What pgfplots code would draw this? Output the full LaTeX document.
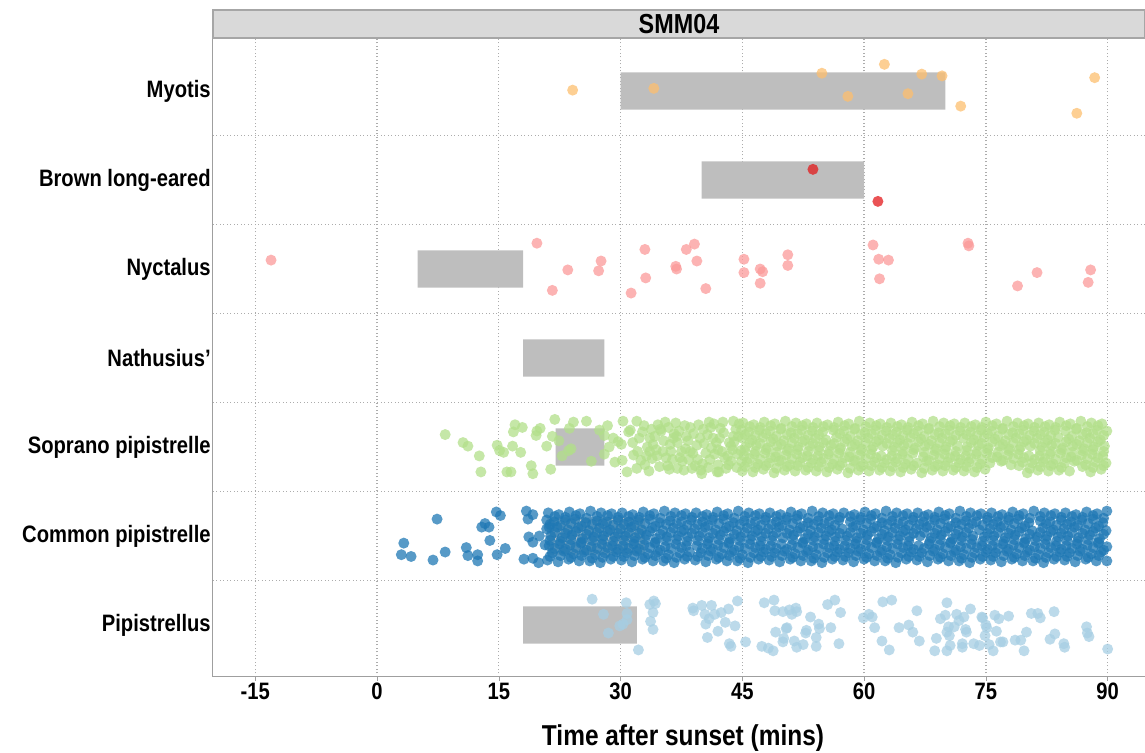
\documentclass[border=0pt]{standalone}
\usepackage{fontspec}
\setmainfont{Liberation Sans}[FakeStretch=0.85]
\usepackage{pgfplots}
\pgfplotsset{compat=1.18}
\definecolor{cMyo}{HTML}{FDBF6F}
\definecolor{cBle}{HTML}{E31A1C}
\definecolor{cNyc}{HTML}{FB9A99}
\definecolor{cSop}{HTML}{B2DF8A}
\definecolor{cCom}{HTML}{1F78B4}
\definecolor{cPip}{HTML}{A6CEE3}
\definecolor{winGray}{HTML}{BEBEBE}
\definecolor{stripGray}{HTML}{D9D9D9}
\pgfplotsset{
  pts/.style={only marks, mark=*, mark size=2.2pt, forget plot, color=#1,
    mark options={fill=#1, draw opacity=0, fill opacity=0.75}},
  win/.style={fill=winGray, draw=none, forget plot, mark=none},
}
\begin{document}
\begin{tikzpicture}
\begin{axis}[
  scale only axis, width=372.8pt, height=255.6pt,
  xmin=-20.2, xmax=94.6, ymin=0.416, ymax=7.596,
  axis x line*=bottom, axis y line*=left,
  axis line style={gray!75, -},
  xtick={-15,0,15,30,45,60,75,90},
  xticklabels={-15,0,15,30,45,60,75,90},
  ytick={1,2,3,4,5,6,7},
  yticklabels={Pipistrellus,Common pipistrelle,Soprano pipistrelle,Nathusius',Nyctalus,Brown long-eared,Myotis},
  minor ytick={1.5,2.5,3.5,4.5,5.5,6.5},
  xmajorgrids, yminorgrids,
  grid style={gray!65, densely dotted, line width=0.5pt},
  tick align=outside, major tick length=1.6pt, minor tick length=0pt,
  xtick style={gray!75}, ytick style={draw=none},
  tick label style={font=\bfseries\fontsize{9.5}{11}\selectfont, text=black},
  yticklabel style={xshift=4.2pt},
  xticklabel style={yshift=2.7pt},
]
% activity windows
\addplot[win] coordinates {(30,6.79) (70,6.79) (70,7.21) (30,7.21) (30,6.79)};
\addplot[win] coordinates {(40,5.79) (60,5.79) (60,6.21) (40,6.21) (40,5.79)};
\addplot[win] coordinates {(5,4.79) (18,4.79) (18,5.21) (5,5.21) (5,4.79)};
\addplot[win] coordinates {(18,3.79) (28,3.79) (28,4.21) (18,4.21) (18,3.79)};
\addplot[win] coordinates {(22,2.79) (28,2.79) (28,3.21) (22,3.21) (22,2.79)};
\addplot[win] coordinates {(18,0.79) (32,0.79) (32,1.21) (18,1.21) (18,0.79)};

% Myotis
\addplot[pts=cMyo] coordinates {(24.1,7.01)(34.1,7.03)(54.8,7.20)(58.0,6.94)(62.5,7.30)(65.4,6.97)(67.1,7.19)(69.6,7.17)(71.9,6.83)(86.2,6.75)(88.4,7.15)};
% Brown long-eared
\addplot[pts=cBle] coordinates {(53.7,6.12)(61.7,5.76)};
% Nyctalus
\addplot[pts=cNyc] coordinates {(-13.05,5.10)(19.7,5.29)(23.5,4.99)(21.6,4.76)(27.6,5.09)(27.3,4.98)(31.3,4.73)(33.0,5.22)(33.1,4.90)(36.8,5.03)(36.9,5.00)(38.1,5.22)(39.1,5.28)(39.4,5.09)(40.5,4.78)(45.2,5.11)(45.2,4.96)(47.2,5.00)(47.5,4.97)(47.2,4.84)(50.6,5.16)(50.6,5.04)(61.1,5.27)(61.8,5.11)(61.9,4.89)(63.0,5.10)(72.8,5.29)(72.9,5.26)(78.9,4.81)(81.3,4.96)(87.6,4.85)(87.9,4.99)};

% Soprano pipistrelle: early and moderate part
\addplot[pts=cSop] coordinates {(8.4,3.14)(10.6,3.05)(11.2,3.01)(12.6,2.90)(12.8,2.72)(14.8,3.02)(15.1,2.96)(15.6,2.94)(16.0,2.72)(16.5,2.72)(16.7,3.01)(17.7,2.94)(16.8,3.17)(17.0,3.25)(17.9,3.22)(19.0,2.79)(19.2,2.70)(19.6,3.13)(19.7,3.18)(20.1,3.21)(20.9,3.01)(21.4,2.75)(21.6,3.12)(21.9,3.31)(22.4,3.07)(22.8,2.90)(23.6,2.96)(23.9,2.98)(23.7,3.21)(24.2,3.28)(25.8,3.29)(26.4,2.84)(27.4,3.19)(28.0,3.13)(28.4,3.24)(28.0,2.92)(28.6,3.00)(29.1,3.10)(29.7,3.06)(30.1,3.03)(31.0,3.17)(31.2,3.19)(29.3,2.83)(30.2,2.85)(31.6,2.91)(32.0,2.76)(30.3,3.29)(32.0,3.29)
(32.9,3.24)(33.6,2.95)(34.2,3.12)(34.8,2.78)(35.5,3.28)(36.1,3.03)(36.4,2.86)(37.2,3.18)(37.8,2.74)(38.3,3.07)(38.9,2.93)(39.6,3.25)(40.1,2.81)(40.7,3.14)(41.2,2.99)(41.9,2.72)(42.3,3.21)(42.8,2.88)(43.4,3.05)(43.9,3.29)(44.3,2.77)(44.8,2.96)(33.5,2.73)(35.0,3.18)(36.8,3.27)(38.0,2.98)(39.2,2.79)(40.3,3.04)(41.5,3.26)(42.5,2.95)(43.6,2.84)(44.5,3.12)(35.6,2.88)(39.8,3.10)(41.0,2.86)(37.5,2.95)(34.0,3.03)(32.5,2.85)
(33.0,2.80)(33.8,3.20)(34.5,2.90)(35.3,3.07)(36.0,2.75)(36.9,3.12)(37.6,2.84)(38.6,3.22)(39.4,3.02)(40.0,2.70)(40.9,3.28)(41.6,2.92)(42.2,3.10)(43.0,2.76)(43.8,2.97)(44.2,3.20)(32.3,3.10)(35.9,3.22)(38.4,2.86)(42.7,3.16)
(33.3,3.00)(34.6,3.25)(36.2,2.95)(37.0,3.05)(38.8,2.76)(40.5,2.93)(41.8,3.05)(43.2,2.90)(44.0,3.06)(44.9,2.84)(36.6,3.15)(39.0,3.15)(42.0,2.80)(44.6,3.26)(33.9,2.87)
(30.8,2.72)(31.5,3.05)(32.1,2.95)(32.7,3.17)(33.2,2.90)(34.4,2.97)(34.9,3.20)(35.8,2.79)(36.5,3.10)(37.3,2.88)(37.9,3.24)(38.6,2.95)(39.5,2.86)(40.2,3.20)(40.8,2.77)(41.4,3.10)(42.0,2.97)(42.6,3.28)(43.3,2.80)(43.9,3.12)(44.4,2.92)(44.9,3.19)(41.1,3.22)(39.9,2.74)(37.0,2.76)(35.2,2.95)(33.6,3.10)(43.6,3.01)(42.1,2.72)(38.1,3.12)};
% Soprano pipistrelle: dense part
\addplot[pts=cSop] coordinates {
(45.0,2.73)(46.3,2.72)(47.6,2.75)(48.9,2.71)(50.2,2.74)(51.5,2.73)(52.8,2.74)(54.1,2.73)(55.4,2.72)(56.7,2.75)(58.0,2.71)(59.3,2.74)(60.6,2.73)(61.9,2.74)(63.2,2.73)(64.5,2.72)(65.8,2.75)(67.1,2.71)(68.4,2.74)(69.7,2.73)(71.0,2.74)(72.3,2.73)(73.6,2.72)(74.9,2.75)(80.1,2.71)(81.4,2.74)(82.7,2.73)(84.0,2.74)(85.3,2.73)(87.9,2.72)(89.2,2.75)
(45.6,2.83)(46.9,2.81)(48.3,2.82)(49.5,2.84)(50.9,2.80)(52.1,2.83)(53.5,2.82)(54.7,2.83)(56.1,2.81)(57.3,2.82)(58.7,2.84)(59.9,2.80)(61.3,2.83)(62.5,2.82)(63.9,2.83)(65.1,2.81)(66.5,2.82)(67.7,2.84)(69.1,2.80)(70.3,2.83)(71.7,2.82)(72.9,2.83)(74.3,2.81)(75.5,2.82)(76.9,2.84)(78.1,2.80)(79.5,2.83)(80.7,2.82)(82.1,2.83)(83.3,2.81)(84.7,2.82)(85.9,2.84)(87.3,2.80)(88.5,2.83)(89.8,2.82)
(45.2,2.90)(46.5,2.92)(47.8,2.93)(49.1,2.89)(50.4,2.91)(51.7,2.92)(53.0,2.90)(54.3,2.90)(55.6,2.92)(56.9,2.93)(58.2,2.89)(59.5,2.91)(60.8,2.92)(62.1,2.90)(63.4,2.90)(64.7,2.92)(66.0,2.93)(67.3,2.89)(68.6,2.91)(69.9,2.92)(71.2,2.90)(72.5,2.90)(73.8,2.92)(75.1,2.93)(76.4,2.89)(77.7,2.91)(79.0,2.92)(80.3,2.90)(81.6,2.90)(82.9,2.92)(84.2,2.93)(85.5,2.89)(86.8,2.91)(88.1,2.92)(89.4,2.90)
(45.4,3.00)(46.7,3.02)(48.1,2.99)(49.3,3.01)(50.7,2.98)(51.9,3.00)(53.3,3.01)(54.5,3.00)(55.9,3.02)(57.1,2.99)(58.5,3.01)(59.7,2.98)(61.1,3.00)(62.3,3.01)(63.7,3.00)(64.9,3.02)(66.3,2.99)(67.5,3.01)(68.9,2.98)(70.1,3.00)(71.5,3.01)(72.7,3.00)(74.1,3.02)(75.3,2.99)(76.7,3.01)(77.9,2.98)(79.3,3.00)(80.5,3.01)(81.9,3.00)(83.1,3.02)(84.5,2.99)(85.7,3.01)(87.1,2.98)(88.3,3.00)(89.6,3.01)
(45.0,3.10)(46.2,3.08)(47.5,3.11)(48.8,3.09)(50.1,3.07)(51.4,3.10)(52.7,3.08)(54.0,3.10)(55.3,3.08)(56.6,3.11)(57.9,3.09)(59.2,3.07)(60.5,3.10)(61.8,3.08)(63.1,3.10)(64.4,3.08)(65.7,3.11)(67.0,3.09)(68.3,3.07)(69.6,3.10)(70.9,3.08)(72.2,3.10)(73.5,3.08)(74.8,3.11)(76.1,3.09)(77.4,3.07)(78.7,3.10)(80.0,3.08)(81.3,3.10)(82.6,3.08)(83.9,3.11)(85.2,3.09)(86.5,3.07)(87.8,3.10)(89.1,3.08)
(45.8,3.17)(47.1,3.19)(48.4,3.18)(49.7,3.20)(51.0,3.16)(52.3,3.19)(53.6,3.18)(54.9,3.17)(56.2,3.19)(57.5,3.18)(58.8,3.20)(60.1,3.16)(61.4,3.19)(62.7,3.18)(64.0,3.17)(65.3,3.19)(66.6,3.18)(67.9,3.20)(69.2,3.16)(70.5,3.19)(71.8,3.18)(73.1,3.17)(74.4,3.19)(75.7,3.18)(77.0,3.20)(78.3,3.16)(79.6,3.19)(80.9,3.18)(82.2,3.17)(83.5,3.19)(84.8,3.18)(86.1,3.20)(87.4,3.16)(88.7,3.19)(89.9,3.18)
(45.1,3.27)(46.4,3.25)(47.7,3.28)(49.0,3.26)(50.3,3.29)(51.6,3.27)(52.9,3.26)(54.2,3.27)(55.5,3.25)(56.8,3.28)(58.1,3.26)(59.4,3.29)(60.7,3.27)(62.0,3.26)(63.3,3.27)(64.6,3.25)(65.9,3.28)(67.2,3.26)(68.5,3.29)(69.8,3.27)(71.1,3.26)(72.4,3.27)(73.7,3.25)(75.0,3.28)(76.3,3.26)(77.6,3.29)(78.9,3.27)(80.2,3.26)(81.5,3.27)(82.8,3.25)(84.1,3.28)(85.4,3.26)(86.7,3.29)(88.0,3.27)(89.3,3.26)
(45.3,2.78)(46.6,2.77)(47.9,2.79)(49.2,2.76)(50.5,2.78)(51.8,2.79)(53.1,2.77)(54.4,2.78)(55.7,2.77)(57.0,2.79)(58.3,2.76)(59.6,2.78)(60.9,2.79)(62.2,2.77)(63.5,2.78)(64.8,2.77)(66.1,2.79)(67.4,2.76)(68.7,2.78)(70.0,2.79)(71.3,2.77)(72.6,2.78)(73.9,2.77)(79.1,2.79)(80.4,2.76)(81.7,2.78)(83.0,2.79)(84.3,2.77)(86.9,2.78)(88.2,2.77)(89.5,2.79)
(45.9,2.87)(47.2,2.86)(48.5,2.88)(49.8,2.85)(51.1,2.87)(52.4,2.88)(53.7,2.86)(55.0,2.87)(56.3,2.86)(57.6,2.88)(58.9,2.85)(60.2,2.87)(61.5,2.88)(62.8,2.86)(64.1,2.87)(65.4,2.86)(68.0,2.85)(69.3,2.87)(70.6,2.88)(71.9,2.86)(73.2,2.87)(74.5,2.86)(75.8,2.88)(77.1,2.85)(78.4,2.87)(79.7,2.88)(81.0,2.86)(82.3,2.87)(83.6,2.86)(84.9,2.88)(86.2,2.85)(87.5,2.87)(88.8,2.88)
(45.3,2.96)(46.6,2.95)(47.9,2.97)(49.2,2.94)(50.5,2.96)(51.8,2.97)(53.1,2.95)(54.4,2.96)(55.7,2.95)(57.0,2.97)(58.3,2.94)(59.6,2.96)(60.9,2.97)(63.5,2.96)(64.8,2.95)(66.1,2.97)(67.4,2.94)(68.7,2.96)(70.0,2.97)(71.3,2.95)(72.6,2.96)(73.9,2.95)(75.2,2.97)(76.5,2.94)(77.8,2.96)(79.1,2.97)(81.7,2.96)(83.0,2.95)(84.3,2.97)(85.6,2.94)(86.9,2.96)(88.2,2.97)(89.5,2.95)
(45.9,3.05)(47.2,3.04)(48.5,3.06)(49.8,3.03)(51.1,3.05)(52.4,3.06)(53.7,3.04)(55.0,3.05)(56.3,3.04)(57.6,3.06)(58.9,3.03)(60.2,3.05)(61.5,3.06)(62.8,3.04)(64.1,3.05)(65.4,3.04)(66.7,3.06)(68.0,3.03)(69.3,3.05)(70.6,3.06)(73.2,3.05)(74.5,3.04)(75.8,3.06)(77.1,3.03)(78.4,3.05)(79.7,3.06)(81.0,3.04)(82.3,3.05)(83.6,3.04)(84.9,3.06)(86.2,3.03)(87.5,3.05)(88.8,3.06)
(45.3,3.14)(46.6,3.13)(47.9,3.15)(49.2,3.12)(50.5,3.14)(51.8,3.15)(53.1,3.13)(54.4,3.14)(57.0,3.15)(58.3,3.12)(59.6,3.14)(60.9,3.15)(62.2,3.13)(63.5,3.14)(64.8,3.13)(66.1,3.15)(67.4,3.12)(68.7,3.14)(70.0,3.15)(71.3,3.13)(72.6,3.14)(73.9,3.13)(75.2,3.15)(76.5,3.12)(77.8,3.14)(79.1,3.15)(80.4,3.13)(81.7,3.14)(83.0,3.13)(85.6,3.12)(86.9,3.14)(88.2,3.15)(89.5,3.13)
(45.9,3.23)(47.2,3.22)(48.5,3.24)(49.8,3.21)(51.1,3.23)(52.4,3.24)(53.7,3.22)(55.0,3.23)(56.3,3.22)(57.6,3.24)(58.9,3.21)(60.2,3.23)(61.5,3.24)(62.8,3.22)(64.1,3.23)(65.4,3.22)(66.7,3.24)(68.0,3.21)(69.3,3.23)(70.6,3.24)(71.9,3.22)(73.2,3.23)(74.5,3.22)(75.8,3.24)(77.1,3.21)(78.4,3.23)(79.7,3.24)(81.0,3.22)(82.3,3.23)(83.6,3.22)(84.9,3.24)(86.2,3.21)(87.5,3.23)(88.8,3.24)
};

% Common pipistrelle: early part
\addplot[pts=cCom] coordinates {(3.3,1.92)(3.0,1.79)(4.2,1.77)(6.9,1.73)(7.4,2.19)(8.4,1.82)(11.0,1.87)(11.2,1.78)(12.4,1.79)(12.4,1.72)(12.9,2.10)(13.3,2.14)(13.8,2.10)(13.9,1.95)(14.7,2.27)(15.2,2.23)(14.8,1.79)(15.8,1.86)(18.1,1.74)(19.2,1.75)(19.9,1.70)(18.4,2.28)(18.6,2.19)(19.2,2.24)(18.7,1.99)(19.2,1.93)(20.0,2.00)(20.7,1.90)(20.9,2.18)(21.2,2.10)};
% Common pipistrelle: dense part
\addplot[pts=cCom] coordinates {
(21.0,1.73)(22.3,1.71)(23.6,1.74)(24.9,1.72)(26.2,1.72)(27.5,1.70)(28.8,1.74)(30.1,1.73)(31.4,1.71)(32.7,1.74)(34.0,1.72)(35.3,1.72)(36.6,1.70)(37.9,1.74)(39.2,1.73)(40.5,1.71)(41.8,1.74)(43.1,1.72)(44.4,1.72)(45.7,1.70)(47.0,1.74)(48.3,1.73)(49.6,1.71)(50.9,1.74)(52.2,1.72)(53.5,1.72)(54.8,1.70)(56.1,1.74)(57.4,1.73)(58.7,1.71)(60.0,1.74)(61.3,1.72)(62.6,1.72)(63.9,1.70)(65.2,1.74)(66.5,1.73)(67.8,1.71)(69.1,1.74)(70.4,1.72)(71.7,1.72)(73.0,1.70)(74.3,1.74)(75.6,1.73)(76.9,1.71)(78.2,1.74)(79.5,1.72)(80.8,1.72)(82.1,1.70)(83.4,1.74)(84.7,1.73)(86.0,1.71)(87.3,1.74)(88.6,1.72)(89.9,1.72)
(21.6,1.81)(23.0,1.83)(24.2,1.80)(25.5,1.82)(26.9,1.79)(28.1,1.81)(29.5,1.82)(30.8,1.81)(32.0,1.83)(33.4,1.80)(34.6,1.82)(35.9,1.79)(37.3,1.81)(38.5,1.82)(39.9,1.81)(41.1,1.83)(42.5,1.80)(43.7,1.82)(45.0,1.79)(46.4,1.81)(47.6,1.82)(49.0,1.81)(50.2,1.83)(51.5,1.80)(52.9,1.82)(54.1,1.79)(55.5,1.81)(56.7,1.82)(58.1,1.81)(59.3,1.83)(60.6,1.80)(62.0,1.82)(63.2,1.79)(64.6,1.81)(65.8,1.82)(67.1,1.81)(68.5,1.83)(69.7,1.80)(71.1,1.82)(72.3,1.79)(73.6,1.81)(75.0,1.82)(76.2,1.81)(77.6,1.83)(78.8,1.80)(80.1,1.82)(81.5,1.79)(82.7,1.81)(84.1,1.82)(85.3,1.81)(86.6,1.83)(88.0,1.80)(89.2,1.82)
(21.2,1.89)(22.5,1.91)(23.8,1.90)(25.1,1.92)(26.4,1.88)(27.7,1.91)(29.0,1.89)(30.3,1.89)(31.6,1.91)(32.9,1.90)(34.2,1.92)(35.5,1.88)(36.8,1.91)(38.1,1.89)(39.4,1.89)(40.7,1.91)(42.0,1.90)(43.3,1.92)(44.6,1.88)(45.9,1.91)(47.2,1.89)(48.5,1.89)(49.8,1.91)(51.1,1.90)(52.4,1.92)(53.7,1.88)(55.0,1.91)(56.3,1.89)(57.6,1.89)(58.9,1.91)(60.2,1.90)(61.5,1.92)(62.8,1.88)(64.1,1.91)(65.4,1.89)(66.7,1.89)(68.0,1.91)(69.3,1.90)(70.6,1.92)(71.9,1.88)(73.2,1.91)(74.5,1.89)(75.8,1.89)(77.1,1.91)(78.4,1.90)(79.7,1.92)(81.0,1.88)(82.3,1.91)(83.6,1.89)(84.9,1.89)(86.2,1.91)(87.5,1.90)(88.8,1.92)(89.9,1.88)
(21.4,2.00)(22.8,1.98)(24.0,2.01)(25.3,1.97)(26.7,1.99)(27.9,2.00)(29.3,1.99)(30.6,2.00)(31.8,1.98)(33.2,2.01)(34.4,1.97)(35.7,1.99)(37.1,2.00)(38.3,1.99)(39.7,2.00)(40.9,1.98)(42.3,2.01)(43.5,1.97)(44.8,1.99)(46.2,2.00)(47.4,1.99)(48.8,2.00)(50.0,1.98)(51.3,2.01)(52.7,1.97)(53.9,1.99)(55.3,2.00)(56.5,1.99)(57.9,2.00)(59.1,1.98)(60.4,2.01)(61.8,1.97)(63.0,1.99)(64.4,2.00)(65.6,1.99)(66.9,2.00)(68.3,1.98)(69.5,2.01)(70.9,1.97)(72.1,1.99)(73.4,2.00)(74.8,1.99)(76.0,2.00)(77.4,1.98)(78.6,2.01)(79.9,1.97)(81.3,1.99)(82.5,2.00)(83.9,1.99)(85.1,2.00)(86.4,1.98)(87.8,2.01)(89.0,1.97)
(20.9,2.08)(22.2,2.10)(23.5,2.07)(24.8,2.09)(26.1,2.06)(27.4,2.09)(28.7,2.07)(30.0,2.08)(31.3,2.10)(32.6,2.07)(33.9,2.09)(35.2,2.06)(36.5,2.09)(37.8,2.07)(39.1,2.08)(40.4,2.10)(41.7,2.07)(43.0,2.09)(44.3,2.06)(45.6,2.09)(46.9,2.07)(48.2,2.08)(49.5,2.10)(50.8,2.07)(52.1,2.09)(53.4,2.06)(54.7,2.09)(56.0,2.07)(57.3,2.08)(58.6,2.10)(59.9,2.07)(61.2,2.09)(62.5,2.06)(63.8,2.09)(65.1,2.07)(66.4,2.08)(67.7,2.10)(69.0,2.07)(70.3,2.09)(71.6,2.06)(72.9,2.09)(74.2,2.07)(75.5,2.08)(76.8,2.10)(78.1,2.07)(79.4,2.09)(80.7,2.06)(82.0,2.09)(83.3,2.07)(84.6,2.08)(85.9,2.10)(87.2,2.07)(88.5,2.09)(89.8,2.06)
(21.8,2.16)(23.2,2.18)(24.4,2.19)(25.7,2.15)(27.1,2.17)(28.3,2.16)(29.7,2.18)(31.0,2.16)(32.2,2.18)(33.6,2.19)(34.8,2.15)(36.1,2.17)(37.5,2.16)(38.7,2.18)(40.1,2.16)(41.3,2.18)(42.7,2.19)(43.9,2.15)(45.2,2.17)(46.6,2.16)(47.8,2.18)(49.2,2.16)(50.4,2.18)(51.7,2.19)(53.1,2.15)(54.3,2.17)(55.7,2.16)(56.9,2.18)(58.3,2.16)(59.5,2.18)(60.8,2.19)(62.2,2.15)(63.4,2.17)(64.8,2.16)(66.0,2.18)(67.3,2.16)(68.7,2.18)(69.9,2.19)(71.3,2.15)(72.5,2.17)(73.8,2.16)(75.2,2.18)(76.4,2.16)(77.8,2.18)(79.0,2.19)(80.3,2.15)(81.7,2.17)(82.9,2.16)(84.3,2.18)(85.5,2.16)(86.8,2.18)(88.2,2.19)(89.4,2.15)
(21.1,2.26)(22.4,2.24)(23.7,2.27)(25.0,2.25)(26.3,2.28)(27.6,2.26)(28.9,2.25)(30.2,2.26)(31.5,2.24)(32.8,2.27)(34.1,2.25)(35.4,2.28)(36.7,2.26)(38.0,2.25)(39.3,2.26)(40.6,2.24)(41.9,2.27)(43.2,2.25)(44.5,2.28)(45.8,2.26)(47.1,2.25)(48.4,2.26)(49.7,2.24)(51.0,2.27)(52.3,2.25)(53.6,2.28)(54.9,2.26)(56.2,2.25)(57.5,2.26)(58.8,2.24)(60.1,2.27)(61.4,2.25)(62.7,2.28)(64.0,2.26)(65.3,2.25)(66.6,2.26)(67.9,2.24)(69.2,2.27)(70.5,2.25)(71.8,2.28)(73.1,2.26)(74.4,2.25)(75.7,2.26)(77.0,2.24)(78.3,2.27)(79.6,2.25)(80.9,2.28)(82.2,2.26)(83.5,2.25)(84.8,2.26)(86.1,2.24)(87.4,2.27)(88.7,2.25)(89.9,2.28)
(21.3,1.77)(22.6,1.78)(23.9,1.76)(25.2,1.78)(26.5,1.75)(27.8,1.76)(29.1,1.77)(30.4,1.77)(31.7,1.78)(33.0,1.76)(34.3,1.78)(35.6,1.75)(36.9,1.76)(38.2,1.77)(39.5,1.77)(40.8,1.78)(42.1,1.76)(43.4,1.78)(44.7,1.75)(46.0,1.76)(47.3,1.77)(48.6,1.77)(49.9,1.78)(51.2,1.76)(52.5,1.78)(53.8,1.75)(55.1,1.76)(56.4,1.77)(57.7,1.77)(59.0,1.78)(60.3,1.76)(61.6,1.78)(62.9,1.75)(64.2,1.76)(65.5,1.77)(66.8,1.77)(68.1,1.78)(69.4,1.76)(70.7,1.78)(72.0,1.75)(73.3,1.76)(74.6,1.77)(75.9,1.77)(77.2,1.78)(78.5,1.76)(79.8,1.78)(81.1,1.75)(82.4,1.76)(83.7,1.77)(85.0,1.77)(86.3,1.78)(87.6,1.76)(88.9,1.78)
(21.9,1.86)(23.2,1.85)(24.5,1.87)(25.8,1.84)(27.1,1.86)(28.4,1.87)(29.7,1.85)(31.0,1.86)(32.3,1.85)(33.6,1.87)(34.9,1.84)(36.2,1.86)(37.5,1.87)(40.1,1.86)(41.4,1.85)(42.7,1.87)(44.0,1.84)(45.3,1.86)(46.6,1.87)(47.9,1.85)(49.2,1.86)(50.5,1.85)(51.8,1.87)(53.1,1.84)(54.4,1.86)(55.7,1.87)(57.0,1.85)(58.3,1.86)(59.6,1.85)(60.9,1.87)(62.2,1.84)(63.5,1.86)(64.8,1.87)(66.1,1.85)(67.4,1.86)(68.7,1.85)(70.0,1.87)(71.3,1.84)(72.6,1.86)(73.9,1.87)(75.2,1.85)(76.5,1.86)(77.8,1.85)(79.1,1.87)(80.4,1.84)(81.7,1.86)(83.0,1.87)(84.3,1.85)(85.6,1.86)(86.9,1.85)(88.2,1.87)(89.5,1.84)
(21.3,1.95)(22.6,1.94)(23.9,1.96)(25.2,1.93)(26.5,1.95)(27.8,1.96)(29.1,1.94)(30.4,1.95)(31.7,1.94)(33.0,1.96)(34.3,1.93)(35.6,1.95)(36.9,1.96)(38.2,1.94)(39.5,1.95)(40.8,1.94)(42.1,1.96)(43.4,1.93)(44.7,1.95)(46.0,1.96)(47.3,1.94)(48.6,1.95)(51.2,1.96)(52.5,1.93)(53.8,1.95)(55.1,1.96)(56.4,1.94)(57.7,1.95)(59.0,1.94)(60.3,1.96)(61.6,1.93)(62.9,1.95)(64.2,1.96)(65.5,1.94)(68.1,1.94)(69.4,1.96)(70.7,1.93)(72.0,1.95)(73.3,1.96)(74.6,1.94)(75.9,1.95)(77.2,1.94)(78.5,1.96)(79.8,1.93)(81.1,1.95)(82.4,1.96)(83.7,1.94)(85.0,1.95)(86.3,1.94)(87.6,1.96)(88.9,1.93)
(21.9,2.04)(23.2,2.03)(24.5,2.05)(25.8,2.02)(27.1,2.04)(28.4,2.05)(29.7,2.03)(31.0,2.04)(32.3,2.03)(33.6,2.05)(34.9,2.02)(36.2,2.04)(37.5,2.05)(38.8,2.03)(40.1,2.04)(41.4,2.03)(42.7,2.05)(44.0,2.02)(45.3,2.04)(46.6,2.05)(47.9,2.03)(49.2,2.04)(50.5,2.03)(51.8,2.05)(53.1,2.02)(54.4,2.04)(55.7,2.05)(57.0,2.03)(58.3,2.04)(59.6,2.03)(60.9,2.05)(62.2,2.02)(63.5,2.04)(64.8,2.05)(66.1,2.03)(67.4,2.04)(68.7,2.03)(70.0,2.05)(71.3,2.02)(72.6,2.04)(75.2,2.03)(76.5,2.04)(77.8,2.03)(79.1,2.05)(80.4,2.02)(81.7,2.04)(83.0,2.05)(84.3,2.03)(85.6,2.04)(86.9,2.03)(88.2,2.05)(89.5,2.02)
(21.3,2.13)(22.6,2.12)(23.9,2.14)(25.2,2.11)(26.5,2.13)(27.8,2.14)(29.1,2.12)(30.4,2.13)(31.7,2.12)(33.0,2.14)(34.3,2.11)(35.6,2.13)(36.9,2.14)(38.2,2.12)(39.5,2.13)(40.8,2.12)(42.1,2.14)(43.4,2.11)(44.7,2.13)(46.0,2.14)(47.3,2.12)(48.6,2.13)(49.9,2.12)(51.2,2.14)(52.5,2.11)(53.8,2.13)(55.1,2.14)(56.4,2.12)(59.0,2.12)(60.3,2.14)(61.6,2.11)(62.9,2.13)(64.2,2.14)(65.5,2.12)(66.8,2.13)(68.1,2.12)(69.4,2.14)(70.7,2.11)(72.0,2.13)(73.3,2.14)(74.6,2.12)(75.9,2.13)(77.2,2.12)(78.5,2.14)(79.8,2.11)(82.4,2.14)(83.7,2.12)(85.0,2.13)(86.3,2.12)(87.6,2.14)(88.9,2.11)
(21.9,2.22)(23.2,2.21)(24.5,2.23)(25.8,2.20)(27.1,2.22)(28.4,2.23)(29.7,2.21)(31.0,2.22)(32.3,2.21)(33.6,2.23)(34.9,2.20)(36.2,2.22)(37.5,2.23)(38.8,2.21)(40.1,2.22)(41.4,2.21)(42.7,2.23)(44.0,2.20)(45.3,2.22)(46.6,2.23)(47.9,2.21)(49.2,2.22)(50.5,2.21)(51.8,2.23)(53.1,2.20)(54.4,2.22)(55.7,2.23)(57.0,2.21)(58.3,2.22)(59.6,2.21)(60.9,2.23)(62.2,2.20)(63.5,2.22)(64.8,2.23)(66.1,2.21)(67.4,2.22)(68.7,2.21)(70.0,2.23)(71.3,2.20)(72.6,2.22)(73.9,2.23)(75.2,2.21)(76.5,2.22)(77.8,2.21)(79.1,2.23)(80.4,2.20)(81.7,2.22)(83.0,2.23)(84.3,2.21)(85.6,2.22)(86.9,2.21)(88.2,2.23)(89.5,2.20)
};
% window over the common pipistrelle cloud
\addplot[win, fill opacity=0.75] coordinates {(21,1.79) (33,1.79) (33,2.21) (21,2.21) (21,1.79)};

% Pipistrellus
\addplot[pts=cPip] coordinates {(26.5,1.29)(27.9,1.12)(28.5,0.91)(29.9,0.99)(30.3,1.01)(30.8,1.06)(30.8,1.13)(30.7,1.25)(32.2,0.72)(33.6,1.23)(34.1,1.27)(34.3,1.24)(34.0,1.14)(33.7,1.04)(34.0,0.95)(38.9,1.19)(39.0,1.16)(40.0,1.22)(41.2,1.22)(40.4,1.12)(40.9,1.07)(41.6,1.12)(42.4,1.14)(43.3,1.18)(44.4,1.27)(40.5,1.01)(42.9,1.03)(44.1,0.99)(40.7,0.86)(42.0,0.93)(43.4,0.79)(43.6,0.76)(45.4,0.81)(47.4,0.76)(48.2,0.74)(48.8,0.71)(47.7,1.25)(48.9,1.28)(49.0,1.16)(50.0,1.15)(50.8,1.17)(51.6,1.19)(51.7,1.15)(51.1,1.12)(53.4,1.09)(55.5,1.23)(56.4,1.28)(57.1,1.14)(49.1,0.92)(50.4,0.96)(50.5,0.97)(52.9,0.94)(52.8,0.91)(54.4,1.01)(54.5,0.96)(55.9,0.97)(50.1,0.85)(50.0,0.81)(51.4,0.82)(51.7,0.75)(52.5,0.78)(54.1,0.86)(54.1,0.76)(56.9,0.79)(59.9,1.08)(60.6,1.12)(61.0,1.09)(61.3,0.97)(62.3,1.26)(63.4,1.28)(62.2,0.82)(63.1,0.72)(64.3,0.97)(65.5,1.00)(66.0,0.92)(66.8,0.82)(66.5,1.16)(68.7,0.71)(68.9,0.85)(70.2,0.71)(70.6,0.77)(69.4,1.07)(70.0,1.11)(70.2,1.25)(70.4,0.98)(70.2,0.92)(70.5,0.88)(71.1,0.98)(71.4,1.12)(71.7,1.05)(72.3,1.09)(73.1,1.18)(72.5,0.95)(72.6,0.92)(72.1,0.79)(72.1,0.75)(73.5,0.79)(74.2,0.77)(74.5,1.09)(74.6,1.08)(75.0,1.00)(75.1,0.97)(74.9,0.88)(75.4,0.78)(75.9,0.71)(76.1,1.11)(76.6,1.07)(77.8,1.10)(76.3,0.93)(76.8,0.81)(77.1,0.81)(78.6,0.83)(79.3,0.83)(79.7,0.71)(80.0,0.92)(80.6,1.13)(81.4,1.13)(81.7,1.08)(83.4,1.15)(82.9,0.84)(83.5,0.90)(84.6,0.79)(84.7,0.75)(87.4,0.98)(87.5,0.91)(87.7,0.87)(90.0,0.73)};
\end{axis}
% facet strip
\draw[gray!70, fill=stripGray, line width=0.6pt] (current axis.north west) rectangle ([yshift=11.2pt]current axis.north east);
\node[font=\bfseries\fontsize{11}{13}\selectfont, text=black] at ([yshift=5.6pt]current axis.north) {SMM04};
\node[font=\bfseries\fontsize{11.5}{13}\selectfont, text=black] at ([xshift=1.6pt,yshift=-24.4pt]current axis.south) {Time after sunset (mins)};
\pgfresetboundingbox
\path ([xshift=-85.2pt,yshift=-30.4pt]current axis.south west) rectangle ([yshift=15.2pt]current axis.north east);
\end{tikzpicture}
\end{document}
